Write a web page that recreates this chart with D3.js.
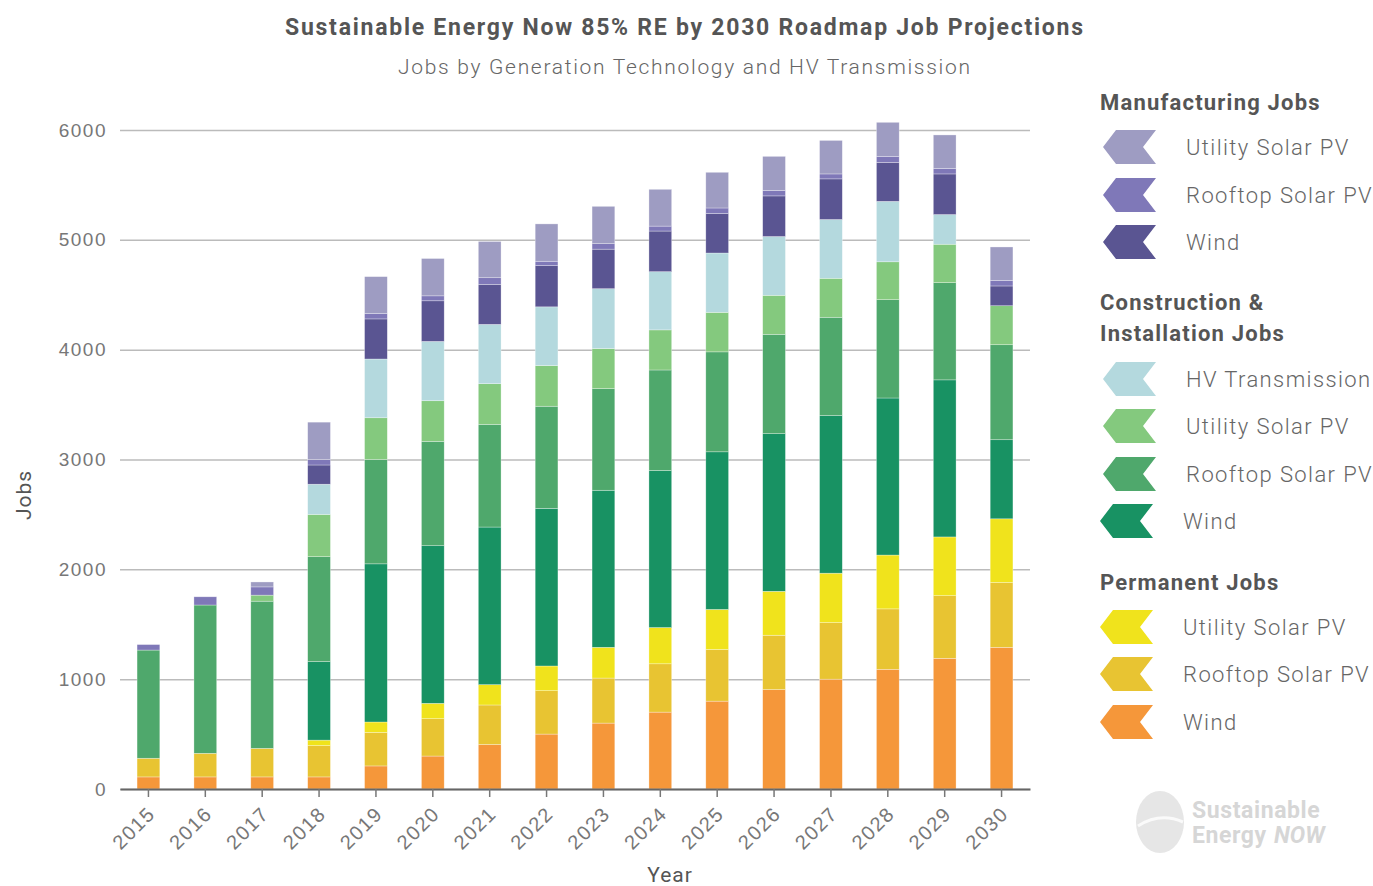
<!DOCTYPE html>
<html>
<head>
<meta charset="utf-8">
<script src="https://cdn.jsdelivr.net/npm/d3@7"></script>
<style>
  body { margin: 0; background: #fff; }
  svg { font-family: Roboto, "Open Sans", sans-serif; }
</style>
</head>
<body>
<div class="chart"></div>
<script>
// Data (jobs per segment)
const years = ['2015','2016','2017','2018','2019','2020','2021','2022','2023','2024','2025','2026','2027','2028','2029','2030'];

const permWind      = [110, 110, 110, 110, 210, 300, 405, 500, 600, 700, 800, 905, 1000, 1090, 1190, 1290];
const permRooftop   = [170, 215, 260, 285, 305, 340, 360, 395, 410, 440, 470, 495, 515, 550, 570, 590];
const permUtility   = [0, 0, 0, 50, 95, 140, 185, 225, 280, 330, 365, 400, 450, 490, 535, 580];
const ciWind        = [0, 0, 0, 715, 1440, 1435, 1435, 1435, 1430, 1430, 1435, 1435, 1435, 1430, 1430, 720];
const ciRooftop     = [985, 1350, 1340, 955, 950, 950, 935, 930, 925, 915, 910, 905, 895, 895, 885, 865];
const ciUtility     = [0, 0, 55, 385, 380, 370, 370, 370, 365, 365, 360, 355, 355, 345, 350, 355];
const hvTransmission = [0, 0, 0, 275, 535, 540, 540, 535, 545, 530, 540, 535, 535, 550, 270, 0];
const mfgWind       = [0, 0, 0, 175, 365, 370, 365, 375, 360, 370, 360, 370, 370, 355, 370, 180];
const mfgRooftop    = [50, 75, 75, 50, 50, 45, 60, 40, 50, 45, 50, 50, 45, 55, 50, 50];
const mfgUtility    = [0, 0, 45, 340, 335, 340, 330, 340, 340, 335, 325, 310, 305, 310, 305, 305];

const yTicks = [0, 1000, 2000, 3000, 4000, 5000, 6000];

// stack order, bottom to top
const series = [
    {key: 'permWind', values: permWind, color: '#f5973a'},
    {key: 'permRooftop', values: permRooftop, color: '#e8c432'},
    {key: 'permUtility', values: permUtility, color: '#f0e31c'},
    {key: 'ciWind', values: ciWind, color: '#189263'},
    {key: 'ciRooftop', values: ciRooftop, color: '#4fa86c'},
    {key: 'ciUtility', values: ciUtility, color: '#84c97e'},
    {key: 'hvTransmission', values: hvTransmission, color: '#b4d9de'},
    {key: 'mfgWind', values: mfgWind, color: '#5a5592'},
    {key: 'mfgRooftop', values: mfgRooftop, color: '#7f78b8'},
    {key: 'mfgUtility', values: mfgUtility, color: '#9e9cc2'}
];

const legendGroups = [
    {title: ['Manufacturing Jobs'], items: [['mfgUtility', 'Utility Solar PV'], ['mfgRooftop', 'Rooftop Solar PV'], ['mfgWind', 'Wind']]},
    {title: ['Construction &', 'Installation Jobs'], items: [['hvTransmission', 'HV Transmission'], ['ciUtility', 'Utility Solar PV'], ['ciRooftop', 'Rooftop Solar PV'], ['ciWind', 'Wind']]},
    {title: ['Permanent Jobs'], items: [['permUtility', 'Utility Solar PV'], ['permRooftop', 'Rooftop Solar PV'], ['permWind', 'Wind']]}
];

const width = 1373;
const height = 886;
const plot = {left: 120, right: 1030, top: 130, bottom: 789};

const svg = d3.select('.chart')
    .append('svg')
    .attr('width', width)
    .attr('height', height);

const colorOf = {};
series.forEach(s => colorOf[s.key] = s.color);

// table for d3.stack
const table = years.map((y, i) => {
    const row = {year: y};
    series.forEach(s => row[s.key] = s.values[i]);
    return row;
});
const stacked = d3.stack().keys(series.map(s => s.key))(table);

// Scales
const x = d3.scaleBand()
    .domain(years)
    .range([plot.left, plot.right])
    .paddingInner(0.6)
    .paddingOuter(0.3);

const y = d3.scaleLinear()
    .domain([0, 6000])
    .range([plot.bottom, plot.top]);

// Title
svg.append('text')
    .attr('x', 285)
    .attr('y', 35)
    .attr('textLength', 798)
    .attr('lengthAdjust', 'spacing')
    .style('font-size', '23px')
    .style('font-weight', 700)
    .style('fill', '#555')
    .text('Sustainable Energy Now 85% RE by 2030 Roadmap Job Projections');

svg.append('text')
    .attr('x', 398)
    .attr('y', 74)
    .attr('textLength', 572)
    .attr('lengthAdjust', 'spacing')
    .style('font-size', '21px')
    .style('font-weight', 300)
    .style('fill', '#666')
    .text('Jobs by Generation Technology and HV Transmission');

// Grid + y axis
const yAxis = d3.axisLeft(y)
    .tickValues(yTicks)
    .tickSize(-(plot.right - plot.left))
    .tickPadding(13)
    .tickFormat(d3.format('d'));

const gy = svg.append('g')
    .attr('transform', `translate(${plot.left},0)`)
    .call(yAxis);
gy.select('.domain').remove();
gy.selectAll('.tick line').attr('stroke', '#bbb').attr('stroke-width', 1.5);
gy.selectAll('.tick text')
    .style('font-size', '19px')
    .style('font-weight', 300)
    .style('letter-spacing', '1.5px')
    .style('fill', '#777');

// Bars
svg.append('g')
    .selectAll('g')
    .data(stacked)
    .join('g')
    .attr('fill', d => colorOf[d.key])
    .selectAll('rect')
    .data(d => d)
    .join('rect')
    .attr('x', d => x(d.data.year))
    .attr('width', x.bandwidth())
    .attr('y', d => y(d[1]))
    .attr('height', d => y(d[0]) - y(d[1]))
    .attr('stroke', '#fff')
    .attr('stroke-opacity', 0.5)
    .attr('stroke-width', 0.6);

// X axis
const xAxis = d3.axisBottom(x)
    .tickSizeInner(8)
    .tickSizeOuter(0);

const gx = svg.append('g')
    .attr('transform', `translate(0,${plot.bottom})`)
    .call(xAxis);
gx.select('.domain').attr('stroke', '#666').attr('stroke-width', 2);
gx.selectAll('.tick line').attr('stroke', '#777').attr('stroke-width', 1.5);
gx.selectAll('.tick text')
    .style('font-size', '20px')
    .style('font-weight', 300)
    .style('letter-spacing', '1.5px')
    .style('fill', '#777')
    .attr('text-anchor', 'end')
    .attr('y', 0)
    .attr('dy', 0)
    .attr('transform', 'translate(8,26) rotate(-45)');

// Axis titles
svg.append('text')
    .attr('x', 670)
    .attr('y', 882)
    .attr('text-anchor', 'middle')
    .style('font-size', '21px')
    .style('letter-spacing', '1px')
    .style('fill', '#555')
    .text('Year');

svg.append('text')
    .attr('transform', 'translate(31,495) rotate(-90)')
    .attr('text-anchor', 'middle')
    .style('font-size', '21px')
    .style('letter-spacing', '1px')
    .style('fill', '#555')
    .text('Jobs');

// Legend
function chevron(x0, yc) {
    const h = 17;
    return `M${x0},${yc} L${x0 + 13},${yc - h} L${x0 + 53},${yc - h} L${x0 + 40},${yc} L${x0 + 53},${yc + h} L${x0 + 13},${yc + h} Z`;
}

const legend = svg.append('g').attr('class', 'legend');
const titleY = [102, 302, 582];
const itemY = [[147, 195, 242], [379, 426, 474, 521], [627, 674, 722]];
const itemX = [[1103, 1103, 1103], [1103, 1103, 1103, 1100], [1100, 1100, 1100]];

legendGroups.forEach((group, gi) => {
    group.title.forEach((line, li) => {
        legend.append('text')
            .attr('x', 1100)
            .attr('y', titleY[gi] + li * 31 + 8)
            .style('font-size', '22px')
            .style('font-weight', 700)
            .style('letter-spacing', '1.2px')
            .style('fill', '#555')
            .text(line);
    });
    group.items.forEach((item, ii) => {
        const cy = itemY[gi][ii];
        const cx = itemX[gi][ii];
        legend.append('path')
            .attr('d', chevron(cx, cy))
            .attr('fill', colorOf[item[0]]);
        legend.append('text')
            .attr('x', cx + 83)
            .attr('y', cy + 8)
            .style('font-size', '22px')
            .style('font-weight', 300)
            .style('letter-spacing', '1.4px')
            .style('fill', '#666')
            .text(item[1]);
    });
});

// Watermark logo
const logo = svg.append('g');
logo.append('ellipse')
    .attr('cx', 1160).attr('cy', 822)
    .attr('rx', 24).attr('ry', 31)
    .attr('fill', '#e6e6e6');
logo.append('path')
    .attr('d', 'M1138,826 Q1160,812 1183,822')
    .attr('fill', 'none')
    .attr('stroke', '#fafafa')
    .attr('stroke-width', 3);
logo.append('text')
    .attr('x', 1192).attr('y', 818)
    .style('font-size', '23px').style('font-weight', 700)
    .style('letter-spacing', '0.6px')
    .style('fill', '#d6d6d6')
    .text('Sustainable');
logo.append('text')
    .attr('x', 1192).attr('y', 843)
    .style('font-size', '23px').style('font-weight', 700)
    .style('letter-spacing', '0.6px')
    .style('fill', '#d6d6d6')
    .text('Energy');
logo.append('text')
    .attr('x', 1274).attr('y', 843)
    .style('font-size', '23px').style('font-weight', 700).style('font-style', 'italic')
    .style('fill', '#d6d6d6')
    .text('NOW');
</script>
</body>
</html>
